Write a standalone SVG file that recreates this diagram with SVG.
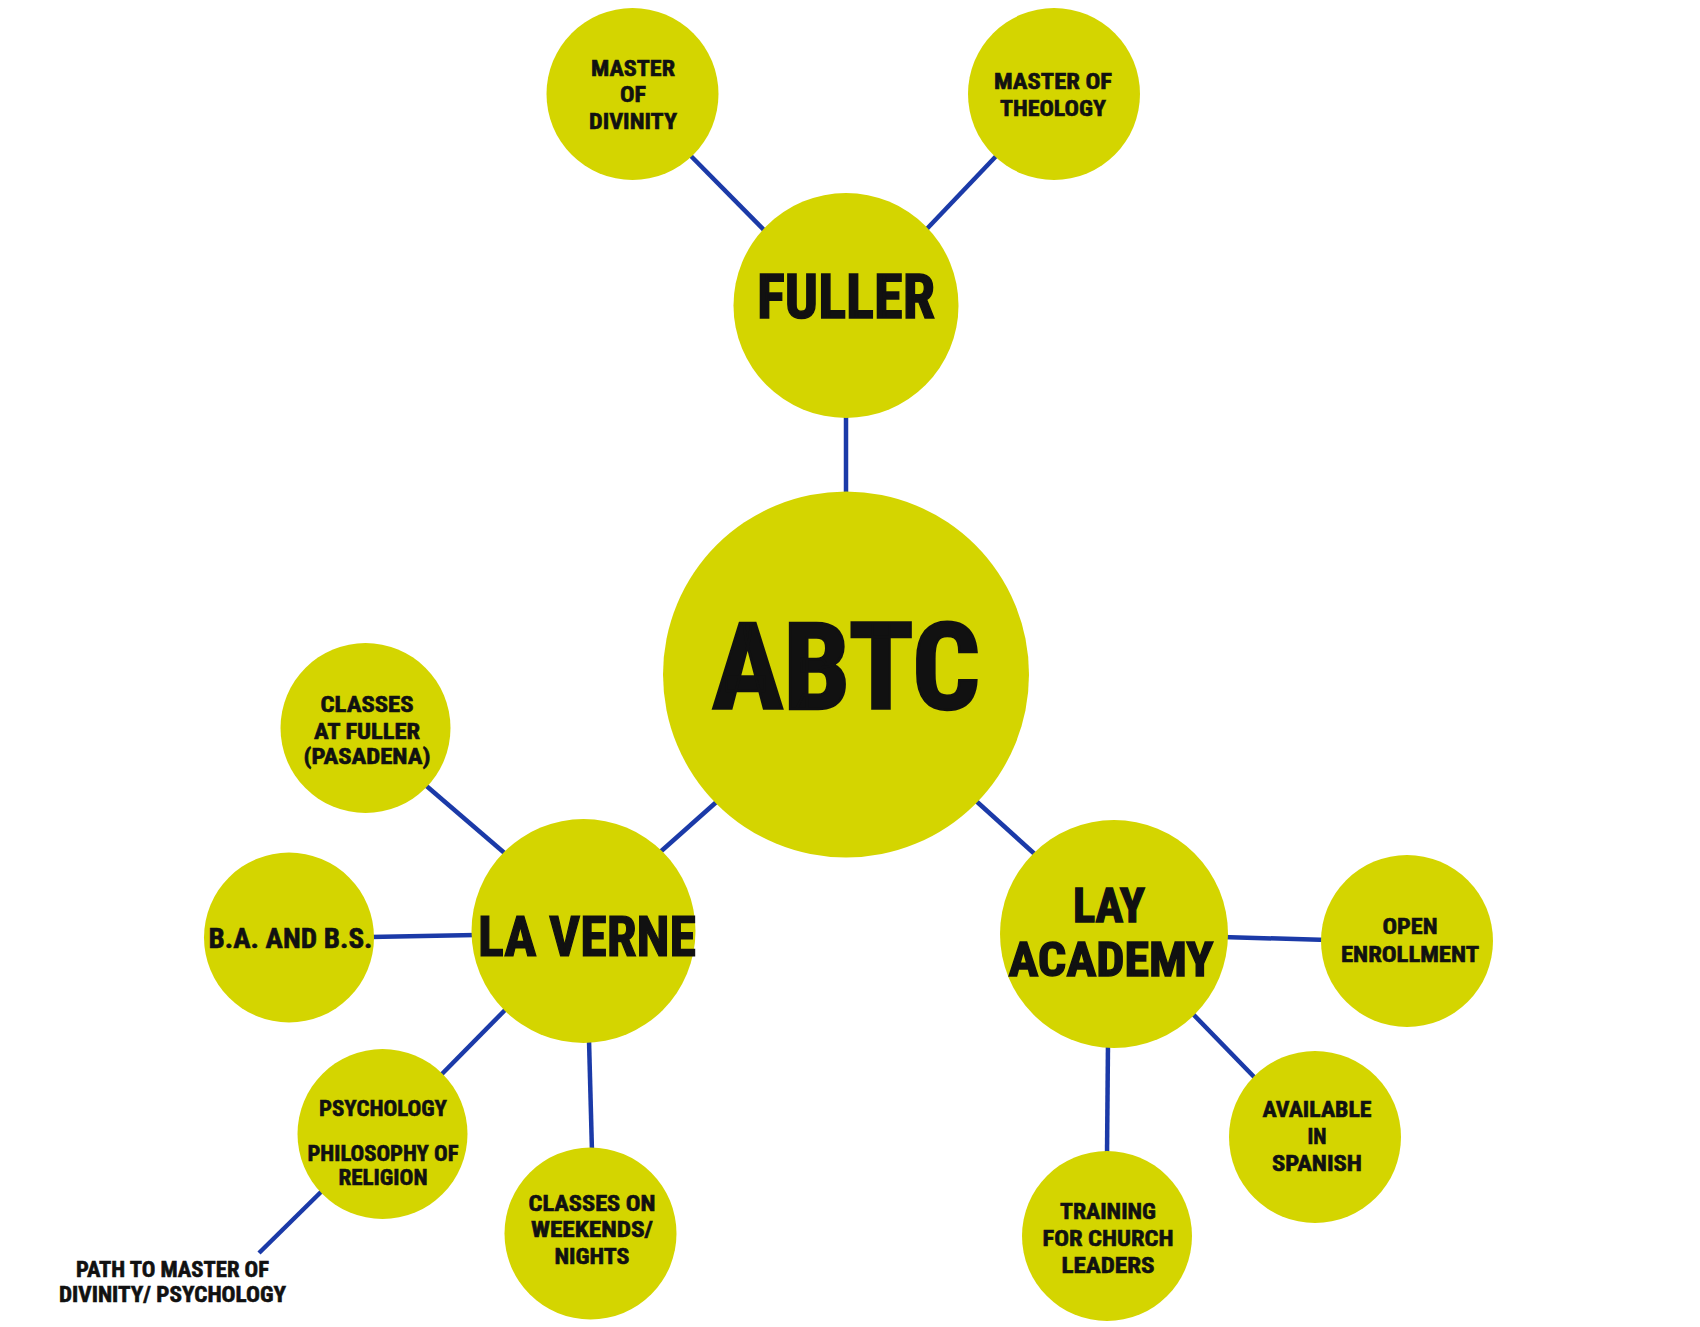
<svg xmlns="http://www.w3.org/2000/svg" width="1700" height="1327" viewBox="0 0 1700 1327">
<style>
.n{fill:#d4d500}
.c line{stroke:#1b3aa8;stroke-width:4.5;stroke-linecap:butt}
text{font-family:"Liberation Sans Narrow","Roboto Condensed","DejaVu Sans Condensed","Liberation Sans",sans-serif;font-weight:bold;fill:#111;stroke:#111;stroke-width:0.6;text-anchor:middle}
.s{font-size:22px}
.m{font-size:28px}
.l{font-size:55px;stroke-width:1.2}
.xl{stroke-width:1.4}
.xxl{stroke-width:2.6}
</style>
<rect width="1700" height="1327" fill="#ffffff"/>
<g id="connectors" class="c">
<line x1="686" y1="151" x2="768" y2="234"/>
<line x1="1000" y1="152" x2="922" y2="234"/>
<line x1="846" y1="410" x2="846" y2="500"/>
<line x1="722" y1="797" x2="658" y2="854"/>
<line x1="975" y1="800" x2="1038" y2="857"/>
<line x1="423" y1="783" x2="508" y2="856"/>
<line x1="370" y1="937" x2="476" y2="935"/>
<line x1="508" y1="1007" x2="438" y2="1078"/>
<line x1="589" y1="1040" x2="592" y2="1152"/>
<line x1="325" y1="1188" x2="259" y2="1253"/>
<line x1="1222" y1="937" x2="1328" y2="940"/>
<line x1="1190" y1="1011" x2="1259" y2="1082"/>
<line x1="1108" y1="1042" x2="1107" y2="1155"/>
</g>
<g id="master-divinity">
<circle class="n" cx="632.5" cy="94" r="86"/>
<text class="s" x="633" y="76" textLength="84" lengthAdjust="spacingAndGlyphs">MASTER</text>
<text class="s" x="633" y="102" textLength="26" lengthAdjust="spacingAndGlyphs">OF</text>
<text class="s" x="633" y="129" textLength="88" lengthAdjust="spacingAndGlyphs">DIVINITY</text>
</g>
<g id="master-theology">
<circle class="n" cx="1054" cy="94" r="86"/>
<text class="s" x="1053" y="89" textLength="118" lengthAdjust="spacingAndGlyphs">MASTER OF</text>
<text class="s" x="1053" y="116" textLength="106" lengthAdjust="spacingAndGlyphs">THEOLOGY</text>
</g>
<g id="fuller">
<circle class="n" cx="846" cy="305.5" r="112.5"/>
<text class="xl" x="846" y="318" font-size="62" textLength="178" lengthAdjust="spacingAndGlyphs">FULLER</text>
</g>
<g id="abtc">
<circle class="n" cx="846" cy="674.5" r="183"/>
<text class="xxl" x="846" y="709" font-size="120" textLength="268" lengthAdjust="spacingAndGlyphs">ABTC</text>
</g>
<g id="la-verne">
<circle class="n" cx="583.5" cy="931" r="112"/>
<text class="l" x="587" y="956" textLength="218" lengthAdjust="spacingAndGlyphs">LA VERNE</text>
</g>
<g id="classes-at-fuller">
<circle class="n" cx="365.5" cy="728" r="85"/>
<text class="s" x="367" y="712" textLength="93" lengthAdjust="spacingAndGlyphs">CLASSES</text>
<text class="s" x="367" y="739" textLength="106" lengthAdjust="spacingAndGlyphs">AT FULLER</text>
<text class="s" x="367" y="764" textLength="127" lengthAdjust="spacingAndGlyphs">(PASADENA)</text>
</g>
<g id="ba-bs">
<circle class="n" cx="289" cy="937.5" r="85"/>
<text class="m" x="290.5" y="948" textLength="164" lengthAdjust="spacingAndGlyphs">B.A. AND B.S.</text>
</g>
<g id="psychology">
<circle class="n" cx="382.5" cy="1134" r="85"/>
<text class="s" x="383" y="1116" textLength="128" lengthAdjust="spacingAndGlyphs">PSYCHOLOGY</text>
<text class="s" x="383" y="1161" textLength="151" lengthAdjust="spacingAndGlyphs">PHILOSOPHY OF</text>
<text class="s" x="383" y="1185" textLength="89" lengthAdjust="spacingAndGlyphs">RELIGION</text>
</g>
<g id="path-label">
<text class="s" x="172.5" y="1277" textLength="193" lengthAdjust="spacingAndGlyphs">PATH TO MASTER OF</text>
<text class="s" x="172.5" y="1302" textLength="227" lengthAdjust="spacingAndGlyphs">DIVINITY/ PSYCHOLOGY</text>
</g>
<g id="weekends">
<circle class="n" cx="590.5" cy="1233.5" r="86"/>
<text class="s" x="592" y="1211" textLength="127" lengthAdjust="spacingAndGlyphs">CLASSES ON</text>
<text class="s" x="592" y="1237" textLength="122" lengthAdjust="spacingAndGlyphs">WEEKENDS/</text>
<text class="s" x="592" y="1264" textLength="75" lengthAdjust="spacingAndGlyphs">NIGHTS</text>
</g>
<g id="lay-academy">
<circle class="n" cx="1114" cy="934" r="114"/>
<text class="xl" x="1109" y="922" font-size="49" textLength="72" lengthAdjust="spacingAndGlyphs">LAY</text>
<text class="xl" x="1111" y="976" font-size="49" textLength="205" lengthAdjust="spacingAndGlyphs">ACADEMY</text>
</g>
<g id="open-enrollment">
<circle class="n" cx="1407" cy="941" r="86"/>
<text class="s" x="1410" y="934" textLength="55" lengthAdjust="spacingAndGlyphs">OPEN</text>
<text class="s" x="1410" y="962" textLength="138" lengthAdjust="spacingAndGlyphs">ENROLLMENT</text>
</g>
<g id="spanish">
<circle class="n" cx="1315" cy="1137" r="86"/>
<text class="s" x="1317" y="1117" textLength="109" lengthAdjust="spacingAndGlyphs">AVAILABLE</text>
<text class="s" x="1317" y="1144" textLength="19" lengthAdjust="spacingAndGlyphs">IN</text>
<text class="s" x="1317" y="1171" textLength="90" lengthAdjust="spacingAndGlyphs">SPANISH</text>
</g>
<g id="training">
<circle class="n" cx="1107" cy="1236" r="85"/>
<text class="s" x="1108" y="1219" textLength="96" lengthAdjust="spacingAndGlyphs">TRAINING</text>
<text class="s" x="1108" y="1246" textLength="131" lengthAdjust="spacingAndGlyphs">FOR CHURCH</text>
<text class="s" x="1108" y="1273" textLength="93" lengthAdjust="spacingAndGlyphs">LEADERS</text>
</g>
</svg>
